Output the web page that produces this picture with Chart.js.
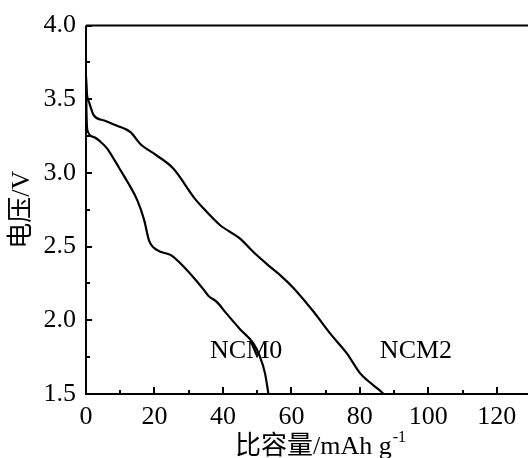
<!DOCTYPE html>
<html><head><meta charset="utf-8">
<script src="https://cdn.jsdelivr.net/npm/chart.js@4/dist/chart.umd.min.js"></script>
<style>html,body{margin:0;padding:0;background:#fff;overflow:hidden}#wrap{width:528px;height:458px;overflow:hidden;position:relative}</style>
</head><body><div id="wrap"><canvas id="c" width="540" height="458"></canvas></div>
<script>
const ncm0X = [0, 0.15, 0.4, 2.3, 4.3, 6.2, 8.5, 10.1, 12.1, 15.0, 17.0, 18.4, 20.8, 24.8, 28.7, 31.8, 34.3, 35.8, 38.2, 41.0, 45.0, 48.9, 50.7, 52.3, 53.3];
const ncm0Y = [3.65, 3.40, 3.29, 3.243, 3.21, 3.165, 3.08, 3.018, 2.94, 2.814, 2.68, 2.543, 2.476, 2.442, 2.36, 2.28, 2.21, 2.165, 2.125, 2.047, 1.94, 1.843, 1.76, 1.64, 1.50];
const ncm2X = [0, 0.3, 0.9, 2.3, 5.3, 9.1, 13.0, 15.8, 20.6, 25.5, 31.8, 34.3, 39.2, 45.0, 48.9, 53.8, 57.5, 60.6, 66.5, 71.3, 76.2, 80.1, 82.1, 85.0, 87.0];
const ncm2Y = [3.65, 3.53, 3.48, 3.39, 3.356, 3.32, 3.277, 3.198, 3.12, 3.03, 2.826, 2.76, 2.645, 2.555, 2.464, 2.363, 2.29, 2.22, 2.058, 1.911, 1.776, 1.64, 1.595, 1.54, 1.50];
const seriesNames = ['NCM0', 'NCM2'];
const seriesLabelX = [46.8, 96.4];
const seriesLabelY = [1.79, 1.79];
const xTickValues = [0, 20, 40, 60, 80, 100, 120];
const xMinorValues = [10, 30, 50, 70, 90, 110, 130];
const yTickValues = [1.5, 2.0, 2.5, 3.0, 3.5, 4.0];
const yMinorValues = [1.75, 2.25, 2.75, 3.25, 3.75];
const xTitle = '比容量/mAh g';
const xTitleSup = '-1';
const yTitle = '电压/V';

const FONT = "'Liberation Serif','Noto Sans CJK SC',serif";
const toPts = (xs, ys) => xs.map((x, i) => ({x: x, y: ys[i]}));

const decor = {
  id: 'decor',
  afterDraw(chart) {
    const ctx = chart.ctx, a = chart.chartArea;
    const xs = chart.scales.x, ys = chart.scales.y;
    ctx.save();
    ctx.strokeStyle = '#000';
    ctx.lineWidth = 2;
    ctx.beginPath();
    ctx.moveTo(a.left, a.top); ctx.lineTo(a.right, a.top);
    ctx.moveTo(a.left, a.top); ctx.lineTo(a.left, a.bottom + 1);
    ctx.moveTo(a.left - 1, a.bottom); ctx.lineTo(a.right, a.bottom);
    ctx.moveTo(a.right, a.top); ctx.lineTo(a.right, a.bottom);
    ctx.stroke();
    ctx.beginPath();
    xTickValues.forEach(v => { const p = Math.round(xs.getPixelForValue(v)); ctx.moveTo(p, a.bottom); ctx.lineTo(p, a.bottom - 7); });
    xMinorValues.forEach(v => { const p = Math.round(xs.getPixelForValue(v)); ctx.moveTo(p, a.bottom); ctx.lineTo(p, a.bottom - 4); });
    yTickValues.forEach(v => { const p = Math.round(ys.getPixelForValue(v)); ctx.moveTo(a.left, p); ctx.lineTo(a.left + 6, p); });
    yMinorValues.forEach(v => { const p = Math.round(ys.getPixelForValue(v)); ctx.moveTo(a.left, p); ctx.lineTo(a.left + 4, p); });
    ctx.stroke();
    ctx.fillStyle = '#000';
    ctx.font = '26px ' + FONT;
    ctx.textAlign = 'center';
    ctx.textBaseline = 'middle';
    seriesNames.forEach((n, i) => ctx.fillText(n, xs.getPixelForValue(seriesLabelX[i]), ys.getPixelForValue(seriesLabelY[i])));
    const cx = (a.left + 528) / 2 + 13;
    ctx.font = '26px ' + FONT;
    const w1 = ctx.measureText(xTitle).width;
    ctx.font = '16px ' + FONT;
    const w2 = ctx.measureText(xTitleSup).width;
    const sx = cx - (w1 + w2) / 2;
    ctx.textAlign = 'left';
    ctx.textBaseline = 'alphabetic';
    ctx.font = '26px ' + FONT;
    ctx.fillText(xTitle, sx, 454);
    ctx.font = '16px ' + FONT;
    ctx.fillText(xTitleSup, sx + w1 + 1, 442);
    ctx.save();
    ctx.translate(22, (a.top + a.bottom) / 2);
    ctx.rotate(-Math.PI / 2);
    ctx.font = '26px ' + FONT;
    ctx.textAlign = 'center';
    ctx.textBaseline = 'middle';
    ctx.fillText(yTitle, 0, 0);
    ctx.restore();
    ctx.restore();
  }
};

new Chart(document.getElementById('c'), {
  type: 'line',
  data: {
    datasets: [
      {label: seriesNames[0], data: toPts(ncm0X, ncm0Y), borderColor: '#000', borderWidth: 2.2, pointRadius: 0, cubicInterpolationMode: 'monotone', fill: false},
      {label: seriesNames[1], data: toPts(ncm2X, ncm2Y), borderColor: '#000', borderWidth: 2.2, pointRadius: 0, cubicInterpolationMode: 'monotone', fill: false}
    ]
  },
  options: {
    responsive: false, animation: false, devicePixelRatio: 1,
    layout: {padding: {top: 25, right: 9, left: 0, bottom: 0}},
    plugins: {legend: {display: false}, tooltip: {enabled: false}},
    scales: {
      x: {
        type: 'linear', min: 0, max: 130,
        grid: {display: false, drawTicks: false}, border: {display: false},
        ticks: {color: '#000', font: {size: 26, family: FONT}, padding: 8, maxRotation: 0, autoSkip: false},
        afterBuildTicks: s => { s.ticks = xTickValues.map(v => ({value: v})); },
        afterFit: s => { s.height = 64; }
      },
      y: {
        type: 'linear', min: 1.5, max: 4.0,
        grid: {display: false, drawTicks: false}, border: {display: false},
        ticks: {color: '#000', font: {size: 26, family: FONT}, padding: 10, callback: v => Number(v).toFixed(1)},
        afterBuildTicks: s => { s.ticks = yTickValues.map(v => ({value: v})); },
        afterFit: s => { s.width = 86; }
      }
    }
  },
  plugins: [decor]
});
</script>
</body></html>
